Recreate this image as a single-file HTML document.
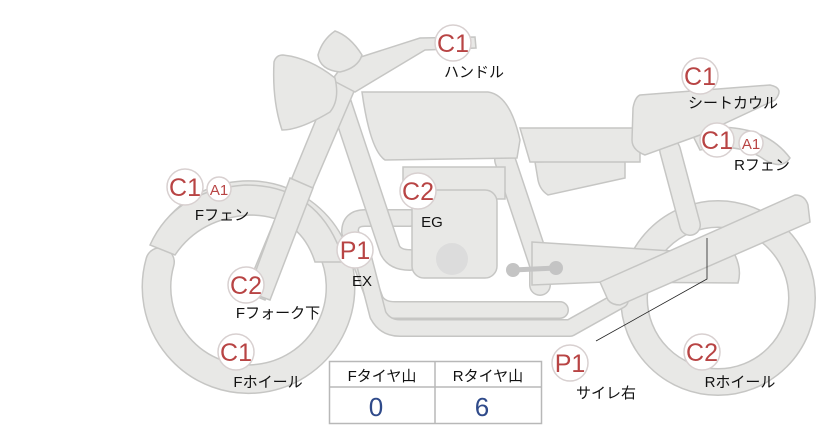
<!DOCTYPE html>
<html><head><meta charset="utf-8"><style>
body{margin:0;background:#fff;width:822px;height:425px;overflow:hidden;font-family:"Liberation Sans","Noto Sans CJK JP",sans-serif}
</style></head><body>
<svg width="822" height="425" viewBox="0 0 822 425" xmlns="http://www.w3.org/2000/svg" font-family="Liberation Sans, Noto Sans CJK JP, sans-serif">
<defs>
<style>
.s{fill:#e8e8e6;stroke:#c6c6c4;stroke-width:1.5}
.o{fill:none;stroke:#c6c6c4;stroke-linecap:round;stroke-linejoin:round}
.i{fill:none;stroke:#e8e8e6;stroke-linecap:round;stroke-linejoin:round}
.b{fill:#fff;stroke:#d8d0d0;stroke-width:1.5}
.c{fill:#b84444;font-size:25px;text-anchor:middle}
.a{fill:#b84444;font-size:15px;text-anchor:middle}
.l{fill:#111;font-size:15px;text-anchor:middle}
</style>
</defs>
<!-- rear wheel -->
<circle cx="718" cy="298" r="84" class="o" stroke-width="28"/>
<circle cx="718" cy="298" r="84" class="i" stroke-width="25"/>
<!-- front wheel ring with gap -->
<path d="M160 262 A 92 92 0 1 0 178 228" class="o" stroke-width="30" stroke-linecap="butt"/>
<path d="M160 262 A 92 92 0 1 0 178 228" class="i" stroke-width="27" stroke-linecap="butt"/>
<!-- front fender -->
<path d="M150 245 Q 175 190 245 185 Q 315 185 340 250 L 345 262 L 315 262 Q 300 215 250 215 Q 200 218 175 255 Z" class="s"/>
<!-- exhaust pipes -->
<path d="M410 218 L365 218 Q350 218 350 232 L 375 300 Q 380 310 395 310 L 560 310" class="o" stroke-width="18"/>
<path d="M410 218 L365 218 Q350 218 350 232 L 375 300 Q 380 310 395 310 L 560 310" class="i" stroke-width="15"/>
<path d="M360 245 L 378 315 Q 385 328 400 328 L 570 328 L 620 300" class="o" stroke-width="18"/>
<path d="M360 245 L 378 315 Q 385 328 400 328 L 570 328 L 620 300" class="i" stroke-width="15"/>
<!-- frame tubes -->
<path d="M340 100 L 390 250 Q 395 260 410 260 M 505 160 L 540 265 L 540 285" class="o" stroke-width="22"/>
<path d="M340 100 L 390 250 Q 395 260 410 260 M 505 160 L 540 265 L 540 285" class="i" stroke-width="19"/>
<path d="M670 150 L 690 225" class="o" stroke-width="22"/>
<path d="M670 150 L 690 225" class="i" stroke-width="19"/>
<!-- swingarm -->
<path d="M532 242 L 735 255 Q 742 270 738 283 L 605 282 L 532 285 Z" class="s"/>
<!-- engine -->
<rect x="403" y="167" width="102" height="32" class="s"/>
<rect x="412" y="190" width="85" height="88" rx="12" class="s"/>
<circle cx="452" cy="259" r="16" fill="#dcdcdc"/>
<path d="M513 270 L 556 268" stroke="#c4c4c4" stroke-width="5"/>
<circle cx="513" cy="270" r="7" fill="#c4c4c4"/>
<circle cx="556" cy="268" r="7" fill="#c4c4c4"/>
<!-- side cover / seat -->
<path d="M535 162 L 625 160 L 625 178 L 548 195 Q 540 190 538 180 Z" class="s"/>
<path d="M520 128 L 640 128 L 640 162 L 530 162 Z" class="s"/>
<!-- rear fender -->
<path d="M690 130 Q 760 118 790 158 Q 782 170 765 160 Q 740 142 700 150 Z" class="s"/>
<!-- seat cowl -->
<path d="M640 95 L 770 85 Q 785 88 775 100 L 700 135 L 645 155 Q 632 150 632 140 L 633 108 Q 635 97 640 95 Z" class="s"/>
<!-- tank -->
<path d="M362 92 L 488 92 Q 510 95 520 140 L 517 158 L 385 160 Q 370 150 362 92 Z" class="s"/>
<!-- fork -->
<path d="M340 75 L 358 82 L 282 260 L 265 300 L 245 292 L 320 110 Z" class="s"/>
<path d="M290 178 L 313 188 L 270 300 L 248 292 Z" class="s"/>
<!-- handlebar -->
<path d="M332 80 L 345 62 L 420 38 L 475 37 L 476 48 L 425 50 L 355 92 Z" class="s"/>
<!-- headlight -->
<path d="M335 31 Q 350 36 362 55 Q 358 68 340 72 Q 320 70 318 55 Q 322 40 335 31 Z" class="s"/>
<path d="M283 55 Q 310 58 335 78 Q 340 100 330 112 Q 300 130 282 130 Q 272 100 274 62 Q 276 55 283 55 Z" class="s"/>
<!-- muffler -->
<path d="M600 282 L 795 195 Q 805 195 808 205 L 810 222 L 620 305 Q 612 305 608 300 Z" class="s"/>
<!-- leader line -->
<path d="M596 341 L 707 279 L 707 238" fill="none" stroke="#222" stroke-width="0.8"/>
<!-- badges -->
<circle cx="453" cy="43" r="18" class="b"/><text x="453" y="52" class="c">C1</text>
<text x="474" y="77" class="l">ハンドル</text>
<circle cx="700" cy="76" r="18" class="b"/><text x="700" y="85" class="c">C1</text>
<text x="733" y="108" class="l">シートカウル</text>
<circle cx="717" cy="140" r="17" class="b"/><text x="717" y="149" class="c">C1</text>
<circle cx="751" cy="143" r="12" class="b"/><text x="751" y="149" class="a">A1</text>
<text x="762" y="170" class="l">Rフェン</text>
<circle cx="185" cy="187" r="18" class="b"/><text x="185" y="196" class="c">C1</text>
<circle cx="219" cy="189" r="12" class="b"/><text x="219" y="195" class="a">A1</text>
<text x="222" y="220" class="l">Fフェン</text>
<circle cx="418" cy="191" r="18" class="b"/><text x="418" y="200" class="c">C2</text>
<text x="432" y="227" class="l">EG</text>
<circle cx="355" cy="250" r="18" class="b"/><text x="355" y="259" class="c">P1</text>
<text x="362" y="286" class="l">EX</text>
<circle cx="246" cy="285" r="18" class="b"/><text x="246" y="294" class="c">C2</text>
<text x="278" y="318" class="l">Fフォーク下</text>
<circle cx="236" cy="352" r="18" class="b"/><text x="236" y="361" class="c">C1</text>
<text x="268" y="387" class="l">Fホイール</text>
<circle cx="570" cy="363" r="18" class="b"/><text x="570" y="372" class="c">P1</text>
<text x="606" y="398" class="l">サイレ右</text>
<circle cx="702" cy="352" r="18" class="b"/><text x="702" y="361" class="c">C2</text>
<text x="740" y="387" class="l">Rホイール</text>
<!-- table -->
<rect x="329.5" y="361.5" width="212" height="62" fill="#fff" stroke="#b8b8b8" stroke-width="1.5"/>
<line x1="329" y1="387" x2="541" y2="387" stroke="#b8b8b8" stroke-width="1.5"/>
<line x1="435" y1="361" x2="435" y2="423" stroke="#b8b8b8" stroke-width="1.5"/>
<text x="382" y="381" class="l">Fタイヤ山</text>
<text x="488" y="381" class="l">Rタイヤ山</text>
<text x="376" y="416" fill="#2f4a8a" font-size="26" text-anchor="middle">0</text>
<text x="482" y="416" fill="#2f4a8a" font-size="26" text-anchor="middle">6</text>
</svg>
</body></html>
